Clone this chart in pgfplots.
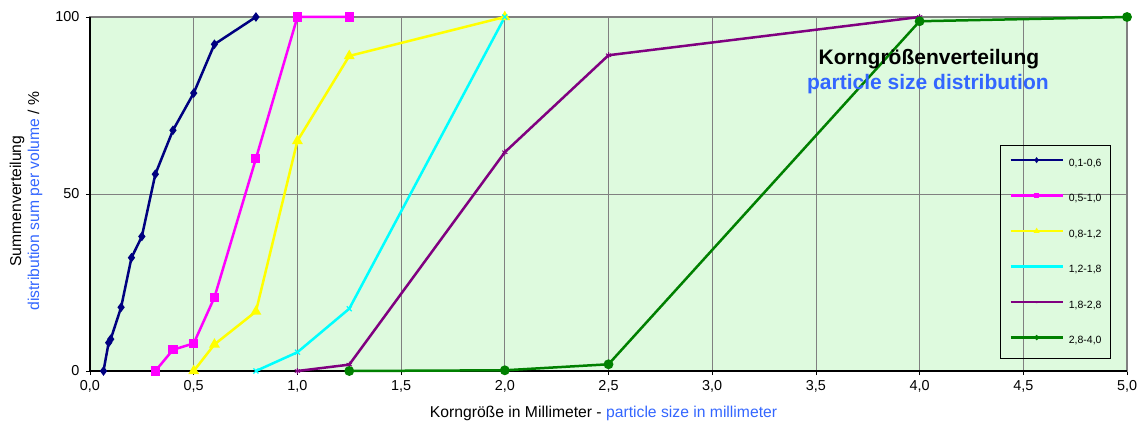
\documentclass[border=0pt]{standalone}
\usepackage{fontspec}
\setmainfont{Liberation Sans}
\usepackage{pgfplots}
\pgfplotsset{compat=1.18}
\definecolor{bg}{RGB}{222,250,222}
\definecolor{lblue}{RGB}{51,102,255}
\definecolor{gridgray}{RGB}{128,128,128}
\definecolor{cnavy}{RGB}{0,0,128}
\definecolor{cmag}{RGB}{255,0,255}
\definecolor{cyel}{RGB}{255,255,0}
\definecolor{ccyan}{RGB}{0,255,255}
\definecolor{cpur}{RGB}{128,0,128}
\definecolor{cgreen}{RGB}{0,128,0}
\begin{document}
\begin{tikzpicture}
\begin{axis}[
  scale only axis, width=1037pt, height=354pt,
  xmin=0, xmax=5, ymin=0, ymax=100,
  xtick={0,0.5,1,1.5,2,2.5,3,3.5,4,4.5,5}, ytick={0,50,100},
  grid=major, major grid style={gridgray, line width=0.8pt},
  axis background/.style={fill=bg},
  axis line style={draw=gridgray, line width=1.6pt},
  tick style={black, line width=0.8pt}, tick align=outside, major tick length=4pt,
  xtick pos=bottom, ytick pos=left,
  ticklabel style={font=\fontsize{14.4}{16}\selectfont},
  xticklabel style={yshift=-2pt},
  yticklabel style={xshift=-3pt},
  /pgf/number format/assume math mode=true,
  xticklabel={\pgfmathprintnumber[fixed, fixed zerofill, precision=1, use comma]{\tick}},
  yticklabel={\pgfmathprintnumber[fixed, precision=0]{\tick}},
  clip=false,
  legend style={at={(0.8775,0.6384)}, anchor=north west, fill=none, draw=black, line width=0.8pt,
    font=\fontsize{10.5}{12}\selectfont, inner xsep=9pt, inner ysep=12.7pt,
    row sep=25.5pt, column sep=5pt,
    nodes={inner sep=0pt, text height=8pt, text depth=2pt}},
  legend cell align=left,
  legend image code/.code={\draw[mark repeat=2, mark phase=2, #1, mark size=1pt] plot coordinates {(0pt,3pt) (26pt,3pt) (52pt,3pt)};},
]
\draw[black, line width=1.6pt] (rel axis cs:0,1) -- (rel axis cs:0,0) -- (rel axis cs:1,0);
\addplot[cnavy, line width=2.5pt, mark=diamond*, mark size=2.8pt] coordinates {
(0.065,0) (0.09,8) (0.1,9) (0.15,18) (0.2,32) (0.25,38) (0.315,55.6) (0.4,68) (0.5,78.5) (0.6,92.3) (0.8,100)};
\addlegendentry{0,1-0,6}
\addplot[cmag, line width=2.5pt, mark=square*, mark size=3.3pt] coordinates {
(0.315,0) (0.4,6) (0.5,7.8) (0.6,20.8) (0.8,60) (1.0,100) (1.25,100)};
\addlegendentry{0,5-1,0}
\addplot[cyel, line width=2.5pt, mark=triangle*, mark size=3.8pt] coordinates {
(0.5,0) (0.6,7.5) (0.8,16.8) (1.0,65) (1.25,89) (2.0,100)};
\addlegendentry{0,8-1,2}
\addplot[ccyan, line width=2.5pt, mark=x, mark size=3.5pt, mark options={line width=1.2pt}] coordinates {
(0.8,0) (1.0,5.3) (1.25,17.6) (2.0,100)};
\addlegendentry{1,2-1,8}
\addplot[cpur, line width=2.5pt, mark=asterisk, mark size=3pt, mark options={line width=1pt}] coordinates {
(1.0,0) (1.25,1.8) (2.0,61.8) (2.5,89.2) (4.0,100)};
\addlegendentry{1,8-2,8}
\addplot[cgreen, line width=2.5pt, mark=*, mark size=3.6pt] coordinates {
(1.25,0) (2.0,0.2) (2.5,1.9) (4.0,98.8) (5.0,100)};
\addlegendentry{2,8-4,0}
\node[font=\bfseries\fontsize{21}{23}\selectfont, black] at (axis cs:4.045,88.1) {Korngrößenverteilung};
\node[font=\bfseries\fontsize{21}{23}\selectfont, lblue] at (axis cs:4.04,81.1) {particle size distribution};
\node[rotate=90, align=center, font=\fontsize{15.7}{18}\selectfont] at ([xshift=-64pt]axis description cs:0,0.48) {Summenverteilung\\\textcolor{lblue}{distribution sum per volume} / \%};
\node[font=\fontsize{15.7}{18}\selectfont] at ([xshift=-5pt,yshift=-42pt]axis description cs:0.5,0) {Korngröße in Millimeter - \textcolor{lblue}{particle size in millimeter}};
\end{axis}
\pgfresetboundingbox
\path ([xshift=-90pt,yshift=-54pt]current axis.south west) rectangle ([xshift=14pt,yshift=17pt]current axis.north east);
\end{tikzpicture}
\end{document}
